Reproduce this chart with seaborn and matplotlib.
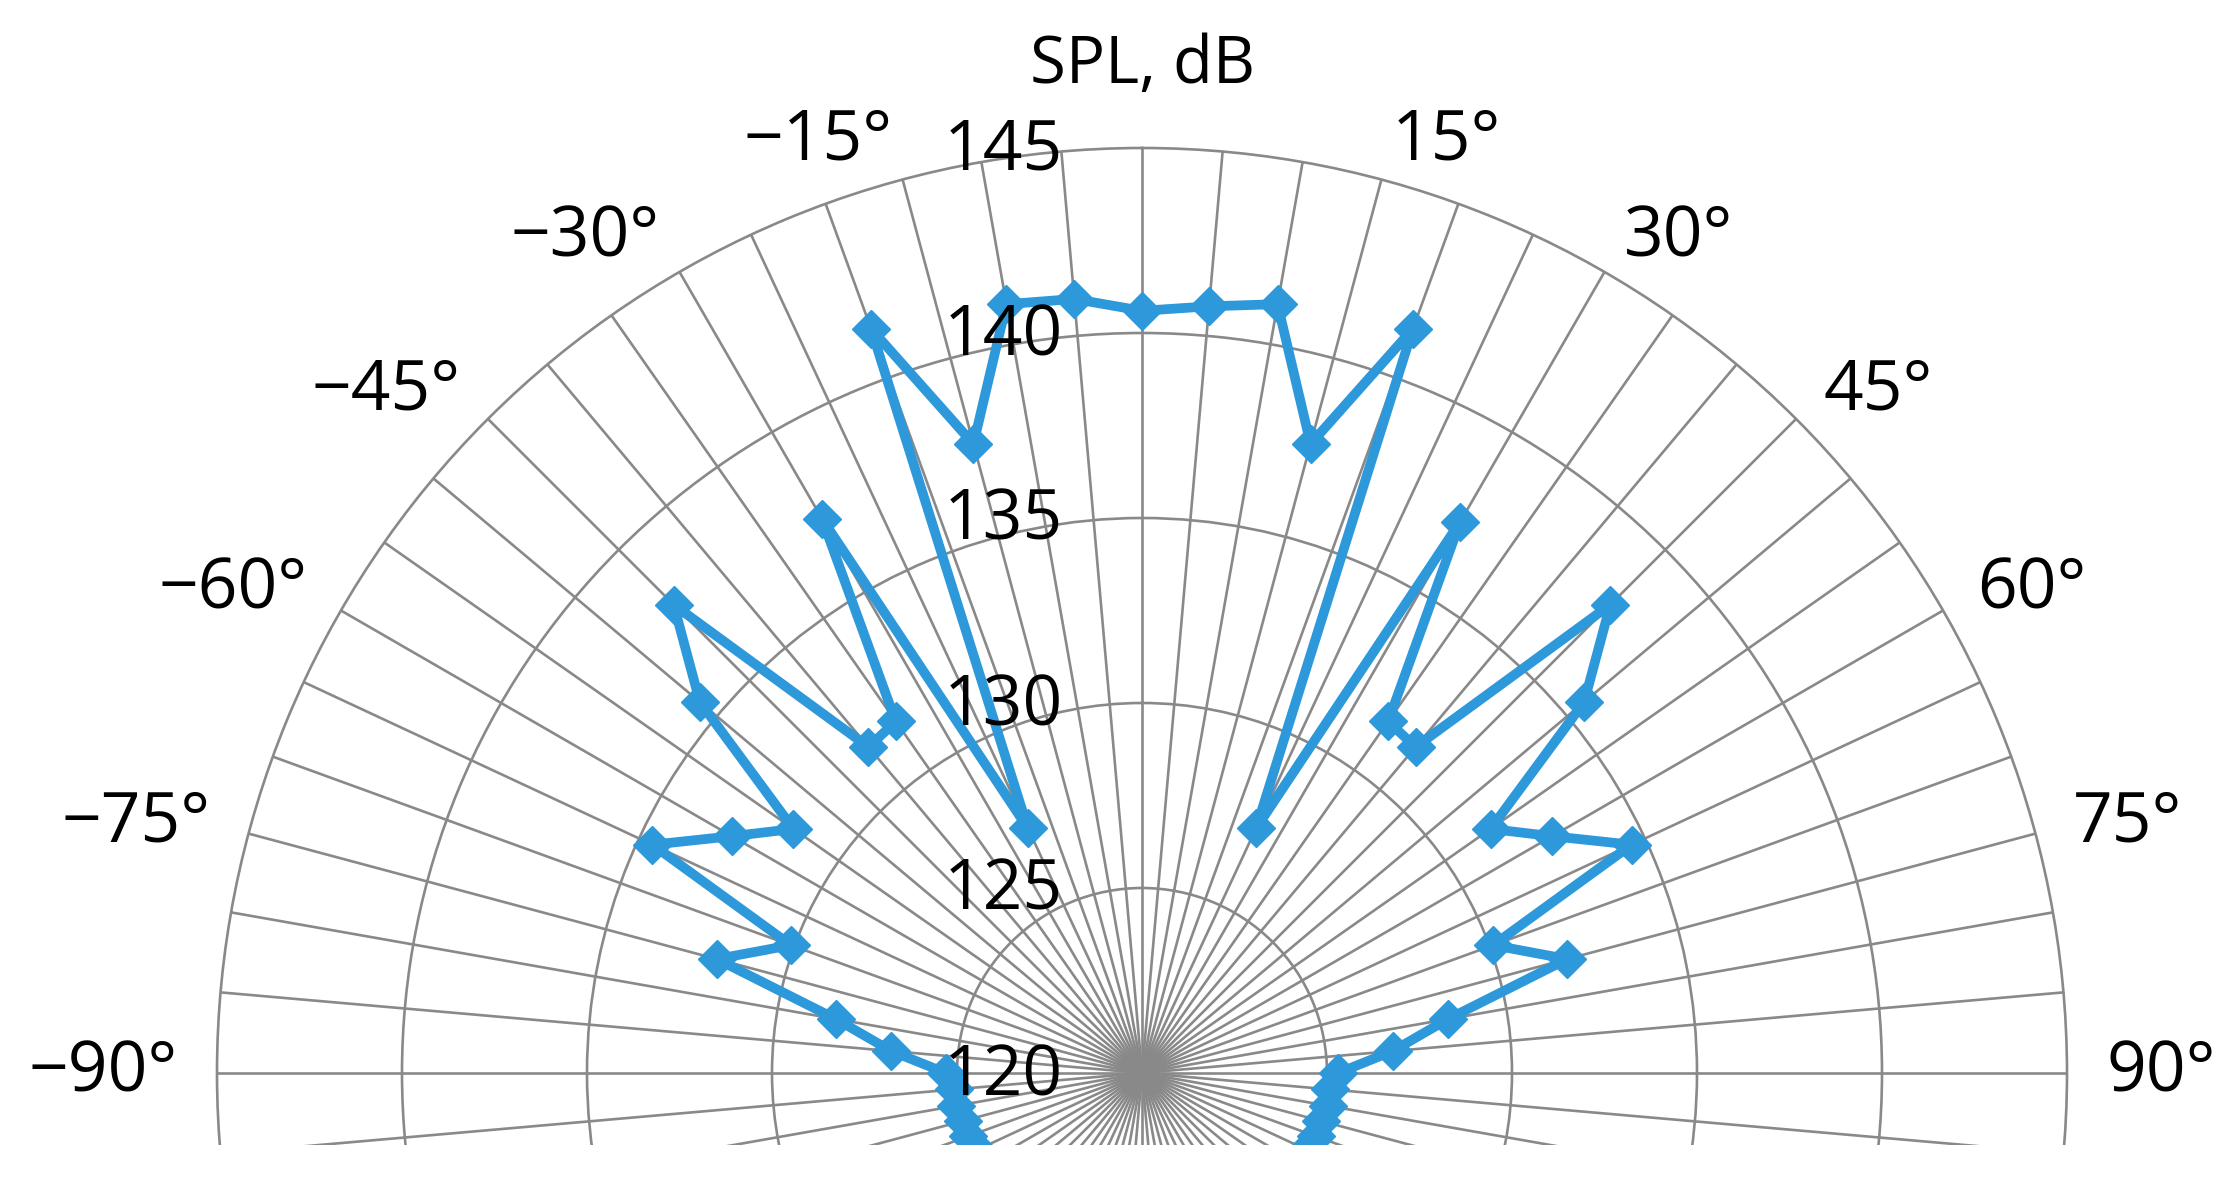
import numpy as np
import pandas as pd
import matplotlib
matplotlib.use("Agg")
import matplotlib.pyplot as plt
import matplotlib.transforms as mtransforms
import seaborn as sns

# directivity, SPL in dB (angle in degrees, 0 = on axis)
angles = [-115, -110, -105, -100, -95, -90, -85, -80, -75, -70, -65, -60,
          -55, -50, -45, -40, -35, -30, -25, -20, -15, -10, -5, 0,
          5, 10, 15, 20, 25, 30, 35, 40, 45, 50, 55, 60,
          65, 70, 75, 80, 85, 90, 95, 100, 105, 110, 115]
spl = [124.9, 125.0, 125.0, 125.1, 125.1, 125.3, 126.8, 128.4, 131.9, 130.1, 134.6, 132.8,
       131.5, 135.6, 137.9, 131.5, 131.6, 137.3, 127.3, 141.4, 137.6, 141.1, 141.0, 140.6,
       140.8, 141.1, 137.6, 141.4, 127.3, 137.2, 131.6, 131.5, 137.9, 135.6, 131.5, 132.8,
       134.6, 130.1, 131.9, 128.4, 126.8, 125.3, 125.1, 125.1, 125.0, 125.0, 124.9]

r_ticks = [120, 125, 130, 135, 140, 145]
theta_labels = [-90, -75, -60, -45, -30, -15, 15, 30, 45, 60, 75, 90]

GRID = "#898989"
BLUE = "#2D98DA"

sns.set_style("white")
plt.rcParams["font.family"] = ["Open Sans", "DejaVu Sans"]
plt.rcParams["text.color"] = "black"

W, H, DPI = 2237, 1190, 100
fig = plt.figure(figsize=(W / DPI, H / DPI), dpi=DPI)

# polar area: centre and outer radius in pixels, lower half runs off the picture
cx, cy, R = 1142, 1073, 925
ax = fig.add_axes([(cx - R) / W, (H - cy - R) / H, 2 * R / W, 2 * R / H], projection="polar")
ax.set_theta_zero_location("N")
ax.set_theta_direction(-1)
ax.set_ylim(120, 145)

ax.set_thetagrids(np.arange(0, 360, 5), labels=[""] * 72)
ax.set_rgrids(r_ticks[1:-1], labels=[""] * (len(r_ticks) - 2))
ax.grid(True, color=GRID, linewidth=1.9)
ax.spines["polar"].set_color(GRID)
ax.spines["polar"].set_linewidth(1.9)
ax.tick_params(length=0)

df = pd.DataFrame({"theta": np.deg2rad(angles), "spl": spl})
sns.lineplot(data=df, x="theta", y="spl", ax=ax, sort=False, estimator=None,
             color=BLUE, linewidth=7, marker="D", markersize=19,
             markeredgecolor=BLUE, markeredgewidth=1, zorder=3)
ax.set_xlabel("")
ax.set_ylabel("")

# angle labels just outside the outer ring
r_lab = 145 + 39 / 37
for a in theta_labels:
    txt = f"{a}°".replace("-", "\u2212")
    ax.text(np.deg2rad(a), r_lab, txt, ha="left" if a > 0 else "right", va="center",
            fontsize=50, color="black", clip_on=False)

# radial labels, shifted left of the 0° spoke
off = mtransforms.ScaledTranslation(-79 / DPI, -4 / DPI, fig.dpi_scale_trans)
for r in r_ticks:
    ax.text(0, r, str(r), ha="right", va="center", fontsize=50, color="black",
            transform=ax.transData + off, zorder=5)

fig.text(cx / W, 1 - 83 / H, "SPL, dB", ha="center", va="baseline", fontsize=47,
         color="black")

# the source picture is cut just below the centre
fig.patches.append(plt.Rectangle((0, 0), 1, 45 / H, transform=fig.transFigure,
                                 facecolor="white", edgecolor="none", zorder=10))

fig.savefig("out.png", dpi=DPI, facecolor="white")
